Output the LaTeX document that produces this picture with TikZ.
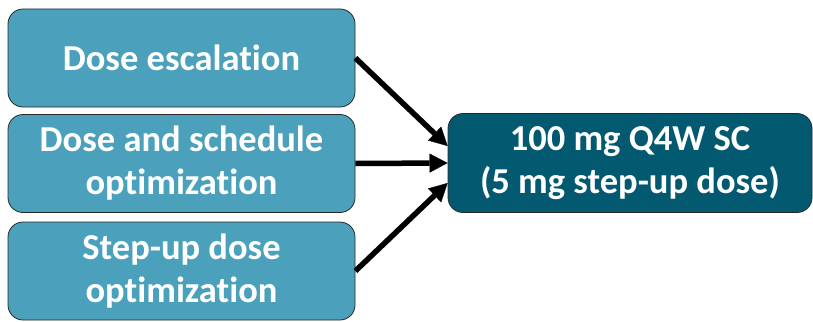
\documentclass[tikz,border=0pt]{standalone}
\usepackage{fontspec}
\setmainfont[Ligatures=NoCommon]{Carlito}
\usetikzlibrary{arrows.meta}
\definecolor{stagefill}{RGB}{75,161,188}
\definecolor{resultfill}{RGB}{2,89,112}
\definecolor{boxline}{RGB}{40,40,40}
\tikzset{
  stagebox/.style={draw=boxline, line width=0.8pt, rounded corners=15pt,
    fill=stagefill, text=white, font=\bfseries\fontsize{36.5}{43}\selectfont,
    align=center, minimum width=347pt, minimum height=98pt, inner sep=0pt},
  resultbox/.style={stagebox, fill=resultfill, minimum width=364pt, minimum height=99pt},
  flow/.style={line width=5.5pt, -{Triangle[length=18pt,width=19pt,line width=0.3pt]}}
}
\begin{document}
% y axis points down; yshift is in page units (up is positive)
\begin{tikzpicture}[x=1pt,y=-1pt]
\useasboundingbox (0,0) rectangle (813,321);
\node[stagebox] (esc) at (181.5,58) {Dose escalation};
\node[stagebox] (sched) at (181.5,163.5) {Dose and schedule\\optimization};
\node[stagebox] (step) at (181.5,271) {Step-up dose\\optimization};
\node[resultbox] (res) at (630,163) {100 mg Q4W SC\\(5 mg step-up dose)};
\draw[flow] (esc.east) -- ([yshift=17pt]res.west);
\draw[flow] (sched.east) -- (res.west);
\draw[flow] (step.east) -- ([yshift=-20pt]res.west);
\end{tikzpicture}
\end{document}
